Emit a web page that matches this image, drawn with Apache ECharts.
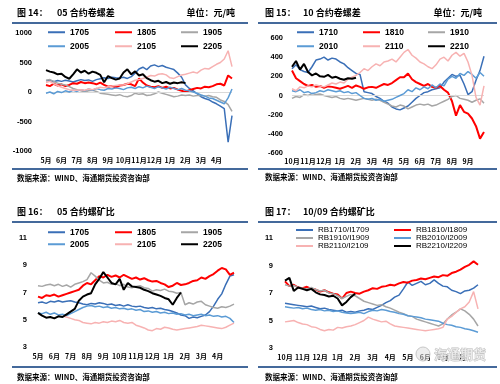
<!DOCTYPE html>
<html><head><meta charset="utf-8">
<script src="https://cdn.jsdelivr.net/npm/echarts@6/dist/echarts.min.js"></script>
<style>html,body{margin:0;padding:0;background:#fff}#c{width:500px;height:384px}</style>
</head><body><div id="c"></div>
<script>
// ---------- tick labels ----------
const months05 = ['5月','6月','7月','8月','9月','10月','11月','12月','1月','2月','3月','4月'];
const months10 = ['10月','11月','12月','1月','2月','3月','4月','5月','6月','7月','8月','9月'];
const months1009 = ['10月','11月','12月','1月','2月','3月','4月','5月','6月','7月','8月'];

// ---------- 图14: 05 合约卷螺差 (weekly samples, 元/吨) ----------
const names05 = ['1705','1805','1905','2005','2105','2205'];
const sp05_1705 = [190,200,175,195,180,200,185,170,190,210,195,205,180,210,225,240,230,250,240,235,250,230,260,320,390,420,380,440,460,430,450,420,400,380,320,250,120,60,20,-30,-80,-110,-130,-170,-200,-240,-280,-850,-400];
const sp05_1805 = [120,100,140,110,130,100,120,150,140,170,150,160,150,130,160,120,90,100,80,110,120,140,130,100,230,160,110,90,80,100,70,90,60,70,40,20,0,30,50,70,60,90,80,100,130,140,110,280,230];
const sp05_1905 = [200,210,180,150,130,120,90,60,40,20,0,20,30,10,-20,-30,-40,-50,-60,-45,-70,-80,-60,-20,-40,-30,-60,-50,-30,0,-20,-40,-60,-80,-70,-50,-60,-50,-70,-60,-55,-70,-60,-80,-90,-135,-160,-215,-330];
const sp05_2005 = [-20,0,-30,10,-10,20,0,30,10,40,20,50,30,60,40,30,60,50,70,60,40,70,80,60,90,70,100,80,60,90,70,50,80,60,40,60,30,20,0,-20,-50,-70,-100,-110,-140,-170,-200,-100,50];
const sp05_2105 = [160,180,140,110,80,60,40,30,30,40,30,50,40,60,80,70,90,100,110,120,120,140,170,200,210,230,250,280,270,300,310,290,240,230,260,290,300,320,340,320,370,400,390,430,470,500,560,700,430];
const sp05_2205 = [370,345,330,300,310,255,225,300,385,330,360,310,345,325,290,165,270,235,210,230,330,385,300,350,280,300,235,200,175,190,150,170,140,160,150,165,150];

// ---------- 图15: 10 合约卷螺差 ----------
const names10 = ['1710','1810','1910','2010','2110','2210'];
const sp10_1710 = [280,320,270,250,240,300,370,380,400,370,390,380,350,330,290,260,230,220,40,30,20,-10,-30,-60,-80,-120,-140,-150,-130,-110,-70,-30,0,30,40,60,70,80,140,180,220,200,210,120,10,40,160,260,410];
const sp10_1810 = [260,180,150,120,100,110,90,100,80,95,90,80,70,85,100,80,105,90,70,85,90,80,100,120,110,130,160,190,190,230,170,140,120,100,120,90,80,100,60,30,-60,-210,-100,-170,-190,-240,-320,-450,-380];
const sp10_1910 = [-30,-10,-20,10,0,20,10,15,0,-10,-20,-10,-30,-40,-30,-40,-50,-40,-30,-40,-50,-40,-50,-70,-90,-110,-120,-100,-110,-140,-120,-100,-90,-100,-90,-110,-100,-80,-60,-40,-10,0,-30,-40,-50,-70,-50,-35,-80];
const sp10_2010 = [50,40,60,30,40,20,30,50,40,60,50,40,50,30,40,20,30,0,-30,-40,-30,-50,-40,-60,-50,-40,-20,0,20,60,40,80,60,90,70,110,80,120,100,170,200,180,230,210,250,220,180,240,200];
const sp10_2110 = [70,50,90,80,100,90,110,100,90,110,130,120,140,130,170,190,210,240,280,260,300,330,310,350,360,380,350,400,450,480,420,390,350,330,300,280,320,380,400,360,420,450,410,440,350,210,-20,-100,100];
const sp10_2210 = [300,360,270,330,245,210,230,200,195,215,185,195,175,165,180,175,185];

// ---------- 图16: 05 合约螺矿比 ----------
const r05_1705 = [6.25,6.3,6.2,6.35,6.3,6.4,6.3,6.35,6.4,6.3,6.25,6.15,6.1,6.2,6.15,6.25,6.2,6.1,6.15,6.05,6.1,6.0,6.1,6.0,5.95,6.0,5.9,5.85,5.9,5.8,5.85,5.75,5.7,5.6,5.5,5.35,5.3,5.1,5.2,5.15,5.25,5.35,5.6,6.0,6.5,6.9,7.6,8.2,8.3];
const r05_1805 = [6.7,6.6,6.8,6.75,6.85,6.7,6.8,6.9,7.0,7.1,7.2,7.5,7.7,7.6,7.9,8.2,8.1,8.3,8.15,8.25,8.1,8.3,8.15,8.0,8.1,7.95,8.05,7.9,7.8,7.85,7.7,7.6,7.4,7.5,7.7,7.55,7.6,7.7,7.85,7.9,8.1,8.0,8.2,8.35,8.6,8.8,8.7,8.3,8.45];
const r05_1905 = [7.5,7.45,7.55,7.6,7.5,7.6,7.45,7.55,7.4,7.6,7.7,7.8,7.95,8.45,8.2,7.9,7.7,7.75,7.6,7.65,7.5,7.6,7.4,7.35,7.45,7.5,7.35,7.3,7.1,7.2,7.15,7.25,7.1,7.05,6.95,7.0,6.1,6.25,6.15,6.3,6.35,6.1,6.0,5.9,5.85,5.95,5.9,6.0,6.15];
const r05_2005 = [5.5,5.45,5.55,5.4,5.5,5.35,5.4,5.3,5.45,5.6,5.75,5.9,6.0,6.05,5.95,6.0,5.9,5.95,5.85,5.9,5.8,5.85,5.75,5.8,5.7,5.75,5.6,5.65,5.55,5.6,5.5,5.55,5.45,5.5,5.4,5.45,5.35,5.4,5.3,5.35,5.4,5.3,5.35,5.25,5.3,5.2,5.25,5.1,4.8];
const r05_2105 = [null,null,null,null,null,null,5.25,5.2,5.1,5.0,4.95,4.8,4.75,4.7,4.8,4.75,4.85,4.8,4.9,4.85,4.95,4.8,4.75,4.8,4.6,4.5,4.4,4.25,4.2,4.35,4.3,4.45,4.4,4.3,4.25,4.3,4.35,4.4,4.45,4.5,4.6,4.55,4.5,4.45,4.4,4.35,4.45,4.6,4.75];
const r05_2205 = [5.5,5.3,5.15,5.2,5.1,5.25,5.2,5.4,5.6,5.8,6.4,6.7,6.85,6.95,7.6,8.0,8.5,8.1,7.7,7.6,8.0,7.2,7.7,7.45,7.4,7.35,7.2,7.1,6.95,6.85,6.75,6.6,6.5,6.1,6.6,7.0];

// ---------- 图17: 10/09 合约螺矿比 ----------
const names1009 = ['RB1710/I1709','RB1810/I1809','RB1910/I1909','RB2010/I2009','RB2110/I2109','RB2210/I2209'];
const r1009_1710 = [6.25,6.2,6.15,6.1,6.05,6.0,6.05,5.95,5.85,5.9,5.8,5.75,5.7,5.75,5.6,5.65,5.6,5.7,5.75,5.85,5.8,5.95,6.1,6.3,6.45,6.7,6.85,7.3,7.8,7.55,7.7,7.85,7.6,7.7,7.95,7.7,7.5,7.45,7.2,7.1,6.95,7.15,7.2,7.35,7.6];
const r1009_1810 = [7.85,7.5,7.6,7.4,7.35,7.45,7.3,7.25,7.1,7.2,7.05,6.95,6.9,6.6,7.0,7.1,7.0,6.95,7.1,7.2,7.35,7.3,7.45,7.5,7.6,7.55,7.7,7.8,7.75,7.9,7.95,8.05,8.0,8.1,8.2,8.15,8.3,8.25,8.45,8.55,8.7,8.9,9.05,9.3,9.05];
const r1009_1910 = [7.6,7.5,7.55,7.4,7.35,7.3,7.4,7.25,7.15,7.2,7.0,6.95,6.8,6.6,6.75,6.9,6.8,6.6,6.4,6.3,6.2,6.1,6.15,6.0,5.9,5.75,5.6,5.5,5.35,5.3,5.1,5.0,4.9,4.8,4.7,4.6,4.75,5.1,5.4,5.6,5.85,5.7,5.45,5.1,4.6];
const r1009_2010 = [6.0,5.95,5.9,5.95,5.85,5.9,5.8,5.75,5.8,5.7,5.75,5.65,5.7,5.6,5.55,5.5,5.55,5.6,5.5,5.65,5.75,5.7,5.8,5.75,5.65,5.6,5.5,5.45,5.35,5.3,5.25,5.2,5.1,5.05,5.0,4.95,4.8,4.7,4.65,4.55,4.5,4.4,4.35,4.25,4.15];
const r1009_2110 = [4.9,4.95,5.0,4.85,4.75,4.7,4.55,4.5,4.35,4.25,4.35,4.3,4.5,4.45,4.55,4.6,4.7,4.85,5.0,5.25,5.1,5.0,4.9,4.95,4.75,4.6,4.55,4.5,4.45,4.4,4.35,4.3,4.25,4.3,4.35,4.4,4.5,5.1,5.3,5.6,5.85,6.0,6.35,7.1,5.85];
const r1009_2210 = [7.9,8.1,7.15,7.4,7.3,7.2,7.3,7.05,6.9,6.85,6.75,6.8,6.6,6.1,6.35,6.7,6.95];

// ---------- styling ----------
const COLORS = ['#3a6fb7','#ff0000','#a6a6a6','#5b9bd5','#f7b2b2','#000000'];
const WIDTHS = [1.5,2,1.5,1.5,1.5,2];
const NUM_FONT = '"Liberation Sans","Noto Sans CJK SC",sans-serif';
const CJK_FONT = '"Noto Sans CJK SC","Liberation Sans",sans-serif';
const STEP = 0.25; // one sample per week, x measured in months

function pairs(arr){ const out=[]; arr.forEach((v,i)=>{ if(v!==null) out.push([i*STEP, v]); }); return out; }

const panels = [
  {grid:{left:46,top:33,width:186,height:118}, xmax:12, months:months05, y:[-1000,1000,500], yMargin:14, xMargin:6,
   names:names05, data:[sp05_1705,sp05_1805,sp05_1905,sp05_2005,sp05_2105,sp05_2205], zero:true},
  {grid:{left:292,top:38,width:192,height:115}, xmax:12, months:months10, y:[-600,600,200], yMargin:9, xMargin:5,
   names:names10, data:[sp10_1710,sp10_1810,sp10_1910,sp10_2010,sp10_2110,sp10_2210], zero:true},
  {grid:{left:38,top:238,width:196,height:109}, xmax:12, months:months05, y:[3,11,2], yMargin:11, xMargin:6,
   names:names05, data:[r05_1705,r05_1805,r05_1905,r05_2005,r05_2105,r05_2205], zero:false},
  {grid:{left:285,top:238,width:193,height:110}, xmax:11, months:months1009, y:[3,11,2], yMargin:12, xMargin:6,
   names:names1009, data:[r1009_1710,r1009_1810,r1009_1910,r1009_2010,r1009_2110,r1009_2210], zero:false}
];

const grids=[], xAxes=[], yAxes=[], series=[];
panels.forEach((p,pi)=>{
  grids.push(p.grid);
  xAxes.push({type:'value', gridIndex:pi, min:0, max:p.xmax, interval:1,
    axisLine:{show:false}, axisTick:{show:false}, splitLine:{show:false},
    axisLabel:{margin:p.xMargin, fontSize:7, fontWeight:'bold', color:'#000', fontFamily:CJK_FONT,
      formatter:(v)=> (v>=0 && v<p.months.length && Math.round(v)===v) ? p.months[v] : ''}});
  yAxes.push({type:'value', gridIndex:pi, min:p.y[0], max:p.y[1], interval:p.y[2],
    axisLine:{show:false}, axisTick:{show:false}, splitLine:{show:false},
    axisLabel:{margin:p.yMargin, fontSize:7.5, fontWeight:'bold', color:'#000', fontFamily:NUM_FONT,
      formatter:(v)=> String(v)}});
  p.data.forEach((arr,si)=>{
    const s = {type:'line', name:p.names[si], xAxisIndex:pi, yAxisIndex:pi, data:pairs(arr),
      symbol:'none', smooth:false, lineStyle:{color:COLORS[si], width:WIDTHS[si]}, itemStyle:{color:COLORS[si]},
      z: 2+si};
    if(si===0 && p.zero){
      s.markLine = {silent:true, symbol:'none', label:{show:false}, animation:false,
        lineStyle:{color:'#d9d9d9', width:1, type:'solid'}, data:[{yAxis:0}]};
    }
    series.push(s);
  });
});

// legends: one per item for exact placement
const legends=[];
function addLegend(name,left,top,fs,fw){
  legends.push({data:[name], left, top, padding:0, icon:'rect', itemWidth:17, itemHeight:2, selectedMode:false,
    textStyle:{fontSize:fs, fontWeight:fw, color:'#000', fontFamily:NUM_FONT}});
}
[[names05,[48,115,181],[28,42]],[names10,[297,363,428],[28,42]],[names05,[48,115,181],[228,240]]].forEach(([nm,cols,rows])=>{
  nm.forEach((n,i)=>addLegend(n, cols[i%3], rows[Math.floor(i/3)], 8.5, 'bold'));
});
names1009.forEach((n,i)=>addLegend(n, [296,394][i%2], [226,234,242][Math.floor(i/2)], 8, 'normal'));

// frame texts and rules
const RULE = '#44699b';
function hline(x1,x2,y){ return {type:'line', shape:{x1,y1:y,x2,y2:y}, style:{stroke:RULE, lineWidth:2}, silent:true}; }
function txt(t,x,y,size,align){ return {type:'text', x, y, style:{text:t, font:'bold '+size+'px '+CJK_FONT, fill:'#000', textAlign:align||'left', textVerticalAlign:'middle'}, silent:true}; }
const graphics = [
  hline(12,248,23), hline(12,248,169), hline(258,497,23), hline(258,497,169),
  hline(12,248,222), hline(12,248,367), hline(258,497,222), hline(258,497,367),
  txt('图 14：',17,13,9), txt('05 合约卷螺差',57,13,9), txt('单位：元/吨',235,13,9,'right'),
  txt('图 15：',265,13,9), txt('10 合约卷螺差',303,13,9), txt('单位：元/吨',482,13,9,'right'),
  txt('图 16：',17,212,9), txt('05 合约螺矿比',57,212,9),
  txt('图 17：',265,212,9), txt('10/09 合约螺矿比',303,212,9),
  txt('数据来源：WIND、海通期货投资咨询部',17,178,7.5), txt('数据来源：WIND、海通期货投资咨询部',265,177,7.5),
  txt('数据来源：WIND、海通期货投资咨询部',17,377,7.5), txt('数据来源：WIND、海通期货投资咨询部',265,377,7.5),
  {type:'circle', shape:{cx:423,cy:354,r:7}, style:{fill:'rgba(220,220,220,0.5)', stroke:'#c8c8c8', lineWidth:1}, silent:true, z:50},
  {type:'text', x:434, y:354, z:50, silent:true, style:{text:'海通期货', font:'bold 13px '+CJK_FONT, fill:'rgba(235,235,235,0.7)', stroke:'#bdbdbd', lineWidth:0.8, textAlign:'left', textVerticalAlign:'middle'}}
];

const chart = echarts.init(document.getElementById('c'), null, {renderer:'canvas'});
chart.setOption({
  animation:false, backgroundColor:'#fff',
  grid:grids, xAxis:xAxes, yAxis:yAxes, legend:legends, series:series, graphic:graphics
});
</script></body></html>
